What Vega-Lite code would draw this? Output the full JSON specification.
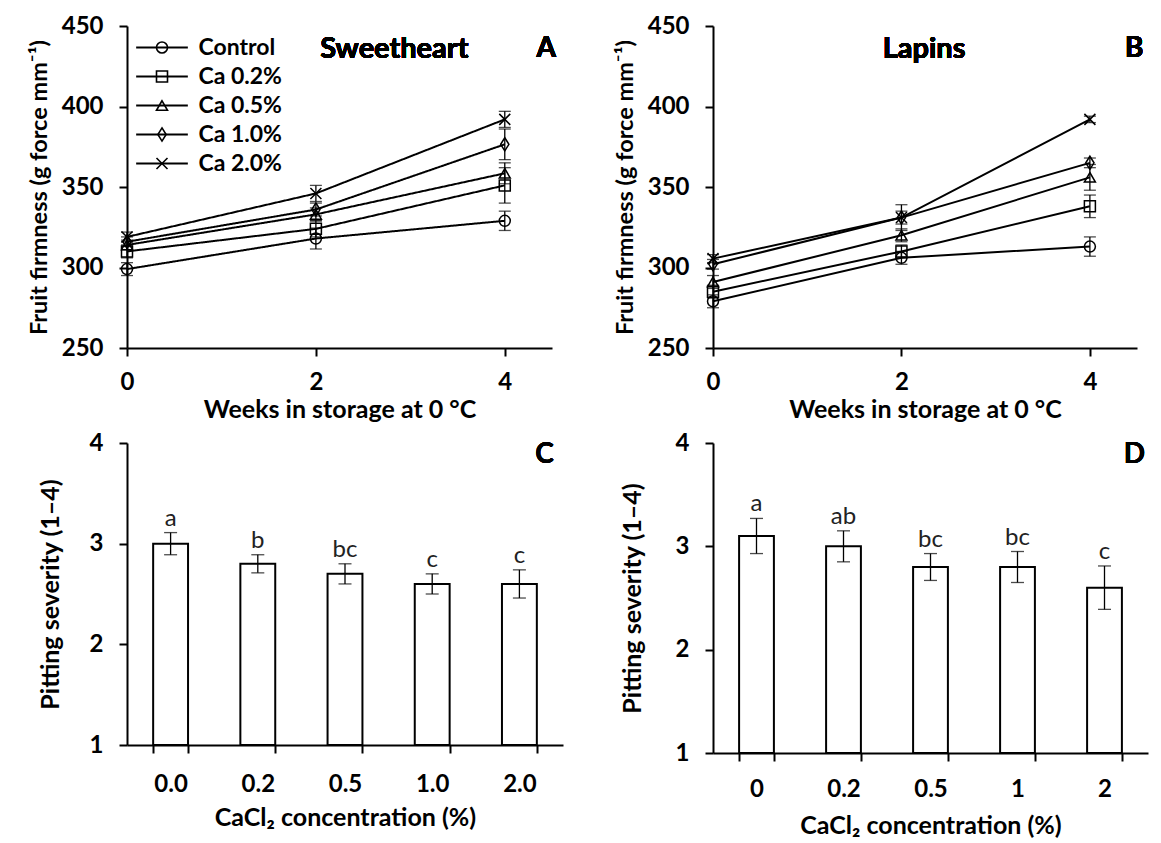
{
  "$schema": "https://vega.github.io/schema/vega-lite/v6.json",
  "background": "white",
  "padding": {"left": 27, "top": 14, "right": 5, "bottom": 5},
  "columns": 2,
  "spacing": {"row": 95, "column": 150},
  "bounds": "flush",
  "resolve": {
    "scale": {"shape": "independent", "strokeDash": "independent", "x": "independent", "y": "independent"},
    "legend": {"shape": "independent", "strokeDash": "independent"}
  },
  "config": {
    "font": "Lato",
    "view": {"stroke": null},
    "axis": {
      "domainColor": "black", "domainWidth": 2,
      "tickColor": "black", "tickWidth": 2, "tickSize": 8,
      "grid": false,
      "labelFont": "Lato", "labelFontSize": 24, "labelFontWeight": "bold", "labelColor": "black",
      "labelFlush": false, "labelOverlap": false,
      "titleFont": "Lato", "titleFontSize": 25, "titleFontWeight": "bold", "titleColor": "black"
    }
  },
  "concat": [
    {
      "width": 425, "height": 322,
      "data": {"values": [
        {"treatment": "Control", "week": 0, "firm": 299, "lo": 295, "hi": 303},
        {"treatment": "Control", "week": 2, "firm": 318, "lo": 311.5, "hi": 324.5},
        {"treatment": "Control", "week": 4, "firm": 329, "lo": 323, "hi": 335},
        {"treatment": "Ca 0.2%", "week": 0, "firm": 310, "lo": 306, "hi": 314},
        {"treatment": "Ca 0.2%", "week": 2, "firm": 324, "lo": 319, "hi": 329},
        {"treatment": "Ca 0.2%", "week": 4, "firm": 351, "lo": 340, "hi": 362},
        {"treatment": "Ca 0.5%", "week": 0, "firm": 314, "lo": 311, "hi": 317},
        {"treatment": "Ca 0.5%", "week": 2, "firm": 333, "lo": 329, "hi": 337},
        {"treatment": "Ca 0.5%", "week": 4, "firm": 358.5, "lo": 352, "hi": 365},
        {"treatment": "Ca 1.0%", "week": 0, "firm": 316, "lo": 313, "hi": 319},
        {"treatment": "Ca 1.0%", "week": 2, "firm": 336, "lo": 332, "hi": 340},
        {"treatment": "Ca 1.0%", "week": 4, "firm": 376.5, "lo": 367, "hi": 386},
        {"treatment": "Ca 2.0%", "week": 0, "firm": 319, "lo": 316, "hi": 322},
        {"treatment": "Ca 2.0%", "week": 2, "firm": 346, "lo": 341, "hi": 351},
        {"treatment": "Ca 2.0%", "week": 4, "firm": 392, "lo": 387, "hi": 397}
      ]},
      "encoding": {
        "x": {"field": "week", "type": "quantitative", "title": "Weeks in storage at 0 °C",
              "scale": {"domain": [0, 4.5], "nice": false, "zero": false},
              "axis": {"values": [0, 2, 4], "labelPadding": 14, "titlePadding": 3}}
      },
      "layer": [
        {"mark": {"type": "line", "color": "black", "strokeWidth": 2},
         "encoding": {
           "y": {"field": "firm", "type": "quantitative", "title": "Fruit firmness (g force mm⁻¹)",
                 "scale": {"domain": [250, 450], "nice": false, "zero": false},
                 "axis": {"values": [250, 300, 350, 400, 450], "labelPadding": 16, "titlePadding": 10, "titleFontSize": 23.5}},
           "strokeDash": {"field": "treatment", "type": "nominal",
             "scale": {"domain": ["Ca 2.0%", "Ca 1.0%", "Ca 0.5%", "Ca 0.2%", "Control"],
                       "range": [[1, 0], [1, 0], [1, 0], [1, 0], [1, 0]]},
             "legend": {"orient": "none", "legendX": 23.5, "legendY": 10, "title": null, "padding": 0,
                        "symbolType": "M-4.7,0H4.7", "symbolSize": 121, "symbolStrokeWidth": 2, "symbolStrokeColor": "black",
                        "symbolFillColor": "transparent", "symbolOpacity": 1, "symbolDash": [1, 0],
                        "labelFont": "Lato", "labelFontSize": 23, "labelFontWeight": "bold", "labelOpacity": 0,
                        "labelExpr": "' '",
                        "labelOffset": 25, "rowPadding": 5}}}},
        {"mark": {"type": "rule", "color": "black", "strokeWidth": 1.3},
         "encoding": {"y": {"field": "lo", "type": "quantitative", "title": "Fruit firmness (g force mm⁻¹)"}, "y2": {"field": "hi"}}},
        {"mark": {"type": "tick", "orient": "horizontal", "color": "black", "size": 12, "thickness": 1.3},
         "encoding": {"y": {"field": "lo", "type": "quantitative", "title": "Fruit firmness (g force mm⁻¹)"}}},
        {"mark": {"type": "tick", "orient": "horizontal", "color": "black", "size": 12, "thickness": 1.3},
         "encoding": {"y": {"field": "hi", "type": "quantitative", "title": "Fruit firmness (g force mm⁻¹)"}}},
        {"mark": {"type": "point", "filled": false, "color": "black", "strokeWidth": 1.5, "size": 121, "opacity": 1},
         "encoding": {
           "y": {"field": "firm", "type": "quantitative", "title": "Fruit firmness (g force mm⁻¹)"},
           "shape": {"field": "treatment", "type": "nominal",
             "scale": {"domain": ["Control", "Ca 0.2%", "Ca 0.5%", "Ca 1.0%", "Ca 2.0%"],
                       "range": ["circle", "square", "triangle-up", "M0,-1.2L0.75,0L0,1.2L-0.75,0Z", "M-1,-1L1,1M-1,1L1,-1"]},
             "legend": {"orient": "none", "legendX": 23.5, "legendY": 10, "title": null, "padding": 0,
                        "symbolSize": 121, "symbolStrokeWidth": 1.6, "symbolStrokeColor": "black", "symbolFillColor": "transparent", "symbolOpacity": 1,
                        "labelFont": "Lato", "labelFontSize": 23, "labelFontWeight": "bold", "labelColor": "black",
                        "labelOffset": 25, "rowPadding": 5}}
         }},
        {"mark": {"type": "text", "font": "Lato", "fontWeight": "bold", "fontSize": 29, "color": "black", "baseline": "middle"},
         "encoding": {"x": {"datum": 2.83, "type": "quantitative"}, "y": {"datum": 436, "type": "quantitative", "title": "Fruit firmness (g force mm⁻¹)"}, "text": {"value": "Sweetheart"}}},
        {"mark": {"type": "text", "font": "Lato", "fontWeight": "bold", "fontSize": 28, "color": "black", "baseline": "middle"},
         "encoding": {"x": {"datum": 4.44, "type": "quantitative"}, "y": {"datum": 436, "type": "quantitative", "title": "Fruit firmness (g force mm⁻¹)"}, "text": {"value": "A"}}}
      ]
    },
    {
      "width": 424, "height": 322,
      "data": {"values": [
        {"treatment": "Control", "week": 0, "firm": 279, "lo": 275, "hi": 283},
        {"treatment": "Control", "week": 2, "firm": 306, "lo": 302, "hi": 310},
        {"treatment": "Control", "week": 4, "firm": 313, "lo": 307, "hi": 319},
        {"treatment": "Ca 0.2%", "week": 0, "firm": 285, "lo": 281, "hi": 289},
        {"treatment": "Ca 0.2%", "week": 2, "firm": 310, "lo": 306, "hi": 314},
        {"treatment": "Ca 0.2%", "week": 4, "firm": 338, "lo": 331, "hi": 345},
        {"treatment": "Ca 0.5%", "week": 0, "firm": 291, "lo": 287, "hi": 295},
        {"treatment": "Ca 0.5%", "week": 2, "firm": 320, "lo": 316, "hi": 324},
        {"treatment": "Ca 0.5%", "week": 4, "firm": 356, "lo": 348, "hi": 364},
        {"treatment": "Ca 1.0%", "week": 0, "firm": 302, "lo": 299, "hi": 305},
        {"treatment": "Ca 1.0%", "week": 2, "firm": 331, "lo": 327, "hi": 335},
        {"treatment": "Ca 1.0%", "week": 4, "firm": 365, "lo": 362, "hi": 368},
        {"treatment": "Ca 2.0%", "week": 0, "firm": 305.5, "lo": 303, "hi": 308},
        {"treatment": "Ca 2.0%", "week": 2, "firm": 331, "lo": 323, "hi": 339},
        {"treatment": "Ca 2.0%", "week": 4, "firm": 392, "lo": 390, "hi": 394}
      ]},
      "encoding": {
        "x": {"field": "week", "type": "quantitative", "title": "Weeks in storage at 0 °C",
              "scale": {"domain": [0, 4.5], "nice": false, "zero": false},
              "axis": {"values": [0, 2, 4], "labelPadding": 14, "titlePadding": 3}}
      },
      "layer": [
        {"mark": {"type": "line", "color": "black", "strokeWidth": 2},
         "encoding": {
           "y": {"field": "firm", "type": "quantitative", "title": "Fruit firmness (g force mm⁻¹)",
                 "scale": {"domain": [250, 450], "nice": false, "zero": false},
                 "axis": {"values": [250, 300, 350, 400, 450], "labelPadding": 16, "titlePadding": 10, "titleFontSize": 23.5}},
           "detail": {"field": "treatment"}}},
        {"mark": {"type": "rule", "color": "black", "strokeWidth": 1.3},
         "encoding": {"y": {"field": "lo", "type": "quantitative", "title": "Fruit firmness (g force mm⁻¹)"}, "y2": {"field": "hi"}}},
        {"mark": {"type": "tick", "orient": "horizontal", "color": "black", "size": 12, "thickness": 1.3},
         "encoding": {"y": {"field": "lo", "type": "quantitative", "title": "Fruit firmness (g force mm⁻¹)"}}},
        {"mark": {"type": "tick", "orient": "horizontal", "color": "black", "size": 12, "thickness": 1.3},
         "encoding": {"y": {"field": "hi", "type": "quantitative", "title": "Fruit firmness (g force mm⁻¹)"}}},
        {"mark": {"type": "point", "filled": false, "color": "black", "strokeWidth": 1.5, "size": 121, "opacity": 1},
         "encoding": {
           "y": {"field": "firm", "type": "quantitative", "title": "Fruit firmness (g force mm⁻¹)"},
           "shape": {"field": "treatment", "type": "nominal",
             "scale": {"domain": ["Control", "Ca 0.2%", "Ca 0.5%", "Ca 1.0%", "Ca 2.0%"],
                       "range": ["circle", "square", "triangle-up", "M0,-1.2L0.75,0L0,1.2L-0.75,0Z", "M-1,-1L1,1M-1,1L1,-1"]},
             "legend": null}
         }},
        {"mark": {"type": "text", "font": "Lato", "fontWeight": "bold", "fontSize": 29, "color": "black", "baseline": "middle"},
         "encoding": {"x": {"datum": 2.24, "type": "quantitative"}, "y": {"datum": 436, "type": "quantitative", "title": "Fruit firmness (g force mm⁻¹)"}, "text": {"value": "Lapins"}}},
        {"mark": {"type": "text", "font": "Lato", "fontWeight": "bold", "fontSize": 28, "color": "black", "baseline": "middle"},
         "encoding": {"x": {"datum": 4.47, "type": "quantitative"}, "y": {"datum": 436, "type": "quantitative", "title": "Fruit firmness (g force mm⁻¹)"}, "text": {"value": "B"}}}
      ]
    },
    {
      "width": 436, "height": 302,
      "data": {"values": [
        {"conc": "0.0", "mean": 3.0, "lo": 2.89, "hi": 3.11, "letter": "a"},
        {"conc": "0.2", "mean": 2.8, "lo": 2.71, "hi": 2.89, "letter": "b"},
        {"conc": "0.5", "mean": 2.7, "lo": 2.6, "hi": 2.8, "letter": "bc"},
        {"conc": "1.0", "mean": 2.6, "lo": 2.5, "hi": 2.7, "letter": "c"},
        {"conc": "2.0", "mean": 2.6, "lo": 2.46, "hi": 2.74, "letter": "c"}
      ]},
      "encoding": {
        "x": {"field": "conc", "type": "nominal", "sort": null, "title": "CaCl₂ concentration (%)",
              "scale": {"paddingInner": 0.6, "paddingOuter": 0.3},
              "axis": {"labelAngle": 0, "tickBand": "extent", "labelPadding": 19, "titlePadding": 9}}
      },
      "layer": [
        {"mark": {"type": "bar", "fill": "white", "stroke": "black", "strokeWidth": 2},
         "encoding": {
           "y": {"field": "mean", "type": "quantitative", "title": "Pitting severity (1–4)",
                 "scale": {"domain": [1, 4], "nice": false, "zero": false},
                 "axis": {"values": [1, 2, 3, 4], "format": "d", "labelPadding": 16, "titlePadding": 26}},
           "y2": {"datum": 1}}},
        {"mark": {"type": "rule", "color": "black", "strokeWidth": 1.3},
         "encoding": {"y": {"field": "lo", "type": "quantitative", "title": "Pitting severity (1–4)"}, "y2": {"field": "hi"}}},
        {"mark": {"type": "tick", "orient": "horizontal", "color": "black", "size": 13, "thickness": 1.3},
         "encoding": {"y": {"field": "lo", "type": "quantitative", "title": "Pitting severity (1–4)"}}},
        {"mark": {"type": "tick", "orient": "horizontal", "color": "black", "size": 13, "thickness": 1.3},
         "encoding": {"y": {"field": "hi", "type": "quantitative", "title": "Pitting severity (1–4)"}}},
        {"mark": {"type": "text", "font": "Lato", "fontSize": 24, "color": "#222222", "baseline": "alphabetic", "dy": -7},
         "encoding": {"y": {"field": "hi", "type": "quantitative", "title": "Pitting severity (1–4)"}, "text": {"field": "letter"}}},
        {"mark": {"type": "text", "font": "Lato", "fontWeight": "bold", "fontSize": 28, "color": "black", "baseline": "middle", "dx": 25},
         "encoding": {"x": {"datum": "2.0", "type": "nominal"}, "y": {"datum": 3.88, "type": "quantitative", "title": "Pitting severity (1–4)"}, "text": {"value": "C"}}}
      ]
    },
    {
      "width": 435, "height": 310,
      "data": {"values": [
        {"conc": "0", "mean": 3.1, "lo": 2.93, "hi": 3.27, "letter": "a"},
        {"conc": "0.2", "mean": 3.0, "lo": 2.85, "hi": 3.15, "letter": "ab"},
        {"conc": "0.5", "mean": 2.8, "lo": 2.67, "hi": 2.93, "letter": "bc"},
        {"conc": "1", "mean": 2.8, "lo": 2.65, "hi": 2.95, "letter": "bc"},
        {"conc": "2", "mean": 2.6, "lo": 2.39, "hi": 2.81, "letter": "c"}
      ]},
      "encoding": {
        "x": {"field": "conc", "type": "nominal", "sort": null, "title": "CaCl₂ concentration (%)",
              "scale": {"paddingInner": 0.6, "paddingOuter": 0.3},
              "axis": {"labelAngle": 0, "tickBand": "extent", "labelPadding": 16, "titlePadding": 12}}
      },
      "layer": [
        {"mark": {"type": "bar", "fill": "white", "stroke": "black", "strokeWidth": 2},
         "encoding": {
           "y": {"field": "mean", "type": "quantitative", "title": "Pitting severity (1–4)",
                 "scale": {"domain": [1, 4], "nice": false, "zero": false},
                 "axis": {"values": [1, 2, 3, 4], "format": "d", "labelPadding": 16, "titlePadding": 30}},
           "y2": {"datum": 1}}},
        {"mark": {"type": "rule", "color": "black", "strokeWidth": 1.3},
         "encoding": {"y": {"field": "lo", "type": "quantitative", "title": "Pitting severity (1–4)"}, "y2": {"field": "hi"}}},
        {"mark": {"type": "tick", "orient": "horizontal", "color": "black", "size": 13, "thickness": 1.3},
         "encoding": {"y": {"field": "lo", "type": "quantitative", "title": "Pitting severity (1–4)"}}},
        {"mark": {"type": "tick", "orient": "horizontal", "color": "black", "size": 13, "thickness": 1.3},
         "encoding": {"y": {"field": "hi", "type": "quantitative", "title": "Pitting severity (1–4)"}}},
        {"mark": {"type": "text", "font": "Lato", "fontSize": 24, "color": "#222222", "baseline": "alphabetic", "dy": -7},
         "encoding": {"y": {"field": "hi", "type": "quantitative", "title": "Pitting severity (1–4)"}, "text": {"field": "letter"}}},
        {"mark": {"type": "text", "font": "Lato", "fontWeight": "bold", "fontSize": 28, "color": "black", "baseline": "middle", "dx": 30},
         "encoding": {"x": {"datum": "2", "type": "nominal"}, "y": {"datum": 3.88, "type": "quantitative", "title": "Pitting severity (1–4)"}, "text": {"value": "D"}}}
      ]
    }
  ]
}
